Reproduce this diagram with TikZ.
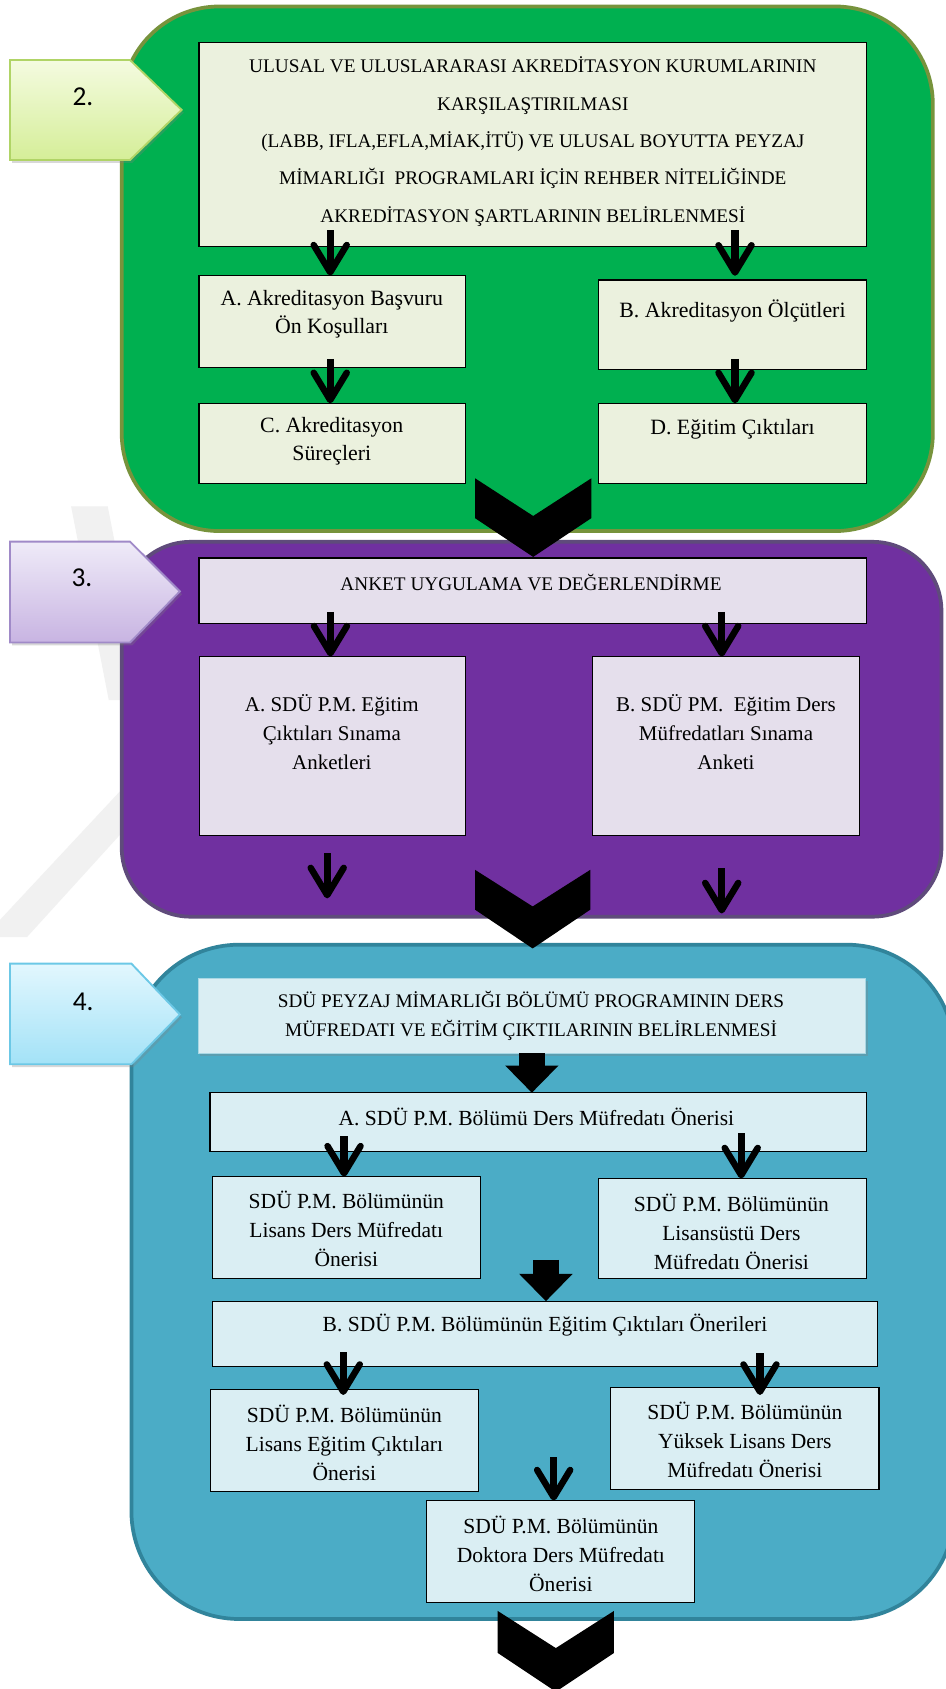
\documentclass[tikz,border=0pt]{standalone}
\usepackage{fontspec}
\setmainfont{Liberation Serif}
\newfontfamily\lblfont{Carlito}
\usetikzlibrary{arrows.meta,fit,shadows,calc}
\definecolor{gpanel}{HTML}{00B050}
\definecolor{gborder}{HTML}{77933C}
\definecolor{ppanel}{HTML}{7030A0}
\definecolor{pborder}{HTML}{5F4B7B}
\definecolor{tpanel}{HTML}{4BACC6}
\definecolor{tborder}{HTML}{31849B}
\definecolor{gboxc}{HTML}{EBF1DE}
\definecolor{pboxc}{HTML}{E5DFEC}
\definecolor{tboxc}{HTML}{DAEEF3}
\definecolor{tboxd}{HTML}{A9D7E4}
\definecolor{wmark}{HTML}{F1F1F1}
\definecolor{lgtop}{HTML}{F4FBE0}
\definecolor{lgbot}{HTML}{D5EE98}
\definecolor{lgdr}{HTML}{B0D466}
\definecolor{lptop}{HTML}{EFEBF8}
\definecolor{lpbot}{HTML}{C8B4E2}
\definecolor{lpdr}{HTML}{A08AC8}
\definecolor{lttop}{HTML}{E2F7FE}
\definecolor{ltbot}{HTML}{A3E2F7}
\definecolor{ltdr}{HTML}{6CC8E6}
\begin{document}
\begin{tikzpicture}[x=0.75pt,y=-0.75pt,
  panel/.style={line width=2.6pt},
  box/.style={draw=black, line width=0.8pt, inner sep=0pt, outer sep=0pt},
  gbx/.style={box, fill=gboxc},
  pbx/.style={box, fill=pboxc},
  tbx/.style={box, fill=tboxc},
  capstxt/.style={font=\fontsize{13.4}{26}\selectfont, align=center, inner sep=0pt},
  mixtxt/.style={font=\fontsize{15.2}{19.5}\selectfont, align=center, inner sep=0pt},
  tcaps/.style={font=\fontsize{13.4}{20.2}\selectfont, align=center, inner sep=0pt},
  pmix/.style={font=\fontsize{14.6}{20.2}\selectfont, align=center, inner sep=0pt},
  tmix/.style={font=\fontsize{15}{20.2}\selectfont, align=center, inner sep=0pt},
  thinarrow/.style={line width=5pt, -{Straight Barb[length=19pt,width=23pt,line width=4.5pt,round]}},
  blockarrow/.style={line width=18pt, -{Triangle[length=19pt,width=36pt]}},
  chev/.style={fill=black},
  lbl/.style={line width=1.3pt, drop shadow={opacity=0.3,shadow xshift=1.5pt,shadow yshift=-2pt}},
  lbltxt/.style={font=\lblfont\fontsize{19}{22}\selectfont, inner sep=0pt}
]
\useasboundingbox (0,0) rectangle (878,1568);
\fill[white] (0,0) rectangle (878,1568);
% watermark
\fill[wmark] (66,470) -- (100,470) -- (135,650) -- (101,650) -- cycle;
\fill[wmark] (-15,870) -- (25,870) -- (125,760) -- (125,720) -- cycle;

% ===== panel 2 (green)
\draw[panel, fill=gpanel, draw=gborder, rounded corners=68pt] (113,6) rectangle (866,493);
\path[lbl, top color=lgtop, bottom color=lgbot, draw=lgdr]
  (9.3,55.7) -- (120.7,55.7) -- (168.6,102) -- (120.7,148.5) -- (9.3,148.5) -- cycle;
\node[lbltxt] (n2) at (77,89.7) {2.};

\node[gbx, fit={(184.8,39.8) (804.7,228.6)}] (gtop) {};
\node[capstxt] (gtopt) at (494.7,131.5) {ULUSAL VE ULUSLARARASI AKREDİTASYON KURUMLARININ\\KARŞILAŞTIRILMASI\\(LABB, IFLA,EFLA,MİAK,İTÜ) VE ULUSAL BOYUTTA PEYZAJ\\MİMARLIĞI\ \ PROGRAMLARI İÇİN REHBER NİTELİĞİNDE\\AKREDİTASYON ŞARTLARININ BELİRLENMESİ};
\node[gbx, fit={(184.8,255.8) (432.3,341.2)}] (gA) {};
\node[mixtxt] (gAt) at (308,292) {A. Akreditasyon Başvuru\\Ön Koşulları};
\node[gbx, fit={(556,260) (804.7,343.2)}] (gB) {};
\node[mixtxt] (gBt) at (680,288.5) {B. Akreditasyon Ölçütleri};
\node[gbx, fit={(184.8,374.4) (432.3,449)}] (gC) {};
\node[mixtxt] (gCt) at (308,410) {C. Akreditasyon\\Süreçleri};
\node[gbx, fit={(556,374.4) (804.7,449)}] (gD) {};
\node[mixtxt] (gDt) at (680,398.5) {D. Eğitim Çıktıları};

\draw[thinarrow] ($(gtop.south -| gA.north)+(-2,-15)$) -- ($(gA.north)+(-2,0)$);
\draw[thinarrow] ($(gtop.south -| gB.north)+(2,-15)$) -- ($(gB.north)+(2,-4)$);
\draw[thinarrow] ($(gA.south)+(-2,-8)$) -- ($(gC.north)+(-2,0)$);
\draw[thinarrow] ($(gB.south)+(2,-10)$) -- ($(gD.north)+(2,0)$);

% ===== panel 3 (purple)
\draw[panel, fill=ppanel, draw=pborder, rounded corners=48pt] (113,503) rectangle (874,851);
\coordinate (ch1) at (495,444);
\fill[chev] ($(ch1)+(-54,0)$) -- ($(ch1)+(0,35)$) -- ($(ch1)+(54,0)$) -- ($(ch1)+(54,37)$) -- ($(ch1)+(0,73)$) -- ($(ch1)+(-54,37)$) -- cycle;
\path[lbl, top color=lptop, bottom color=lpbot, draw=lpdr]
  (9.3,502.8) -- (120.7,502.8) -- (167,549) -- (120.7,596.5) -- (9.3,596.5) -- cycle;
\node[lbltxt] (n3) at (76,536.8) {3.};

\node[pbx, fit={(184.8,518) (804.7,579)}] (p0) {};
\node[tcaps] (p0t) at (493,541) {ANKET UYGULAMA VE DEĞERLENDİRME};
\node[pbx, fit={(185,609.5) (432.5,776)}] (pA) {};
\node[pmix] (pAt) at (308,680) {A. SDÜ P.M. Eğitim\\Çıktıları Sınama\\Anketleri};
\node[pbx, fit={(550,609.5) (798,776)}] (pB) {};
\node[pmix] (pBt) at (674,680) {B. SDÜ PM.\ \ Eğitim Ders\\Müfredatları Sınama\\Anketi};

\draw[thinarrow] ($(p0.south -| pA.north)+(-2,-11)$) -- ($(pA.north)+(-2,0)$);
\draw[thinarrow] ($(p0.south -| pB.north)+(-4,-11)$) -- ($(pB.north)+(-4,0)$);
\coordinate (pAe) at ($(pA.south)+(-5,58)$);
\coordinate (pBe) at ($(pB.south)+(-4,72)$);
\draw[thinarrow] ($(pA.south)+(-5,16)$) -- (pAe);
\draw[thinarrow] ($(pB.south)+(-4,30)$) -- (pBe);

% ===== panel 4 (teal)
\draw[panel, fill=tpanel, draw=tborder, rounded corners=75pt] (122,877) rectangle (886,1503);
\coordinate (ch2) at (494.5,807.5);
\fill[chev] ($(ch2)+(-53.5,0)$) -- ($(ch2)+(0,34)$) -- ($(ch2)+(53.5,0)$) -- ($(ch2)+(53.5,37)$) -- ($(ch2)+(0,73)$) -- ($(ch2)+(-53.5,37)$) -- cycle;
\path[lbl, top color=lttop, bottom color=ltbot, draw=ltdr]
  (9.3,894.6) -- (122,894.6) -- (167,941.8) -- (122,988) -- (9.3,988) -- cycle;
\node[lbltxt] (n4) at (77.3,929.6) {4.};

\node[box, draw=tboxd, fill=tboxc, drop shadow={opacity=0.3,shadow xshift=1.5pt,shadow yshift=-2pt}, fit={(184,908) (803.5,977.7)}] (t0) {};
\node[tcaps] (t0t) at (493,943.5) {SDÜ PEYZAJ MİMARLIĞI BÖLÜMÜ PROGRAMININ DERS\\MÜFREDATI VE EĞİTİM ÇIKTILARININ BELİRLENMESİ};
\node[tbx, fit={(195,1014.5) (804.7,1069)}] (tA) {};
\node[tmix] (tAt) at (498,1037) {A. SDÜ P.M. Bölümü Ders Müfredatı Önerisi};
\node[tbx, fit={(197,1092.3) (445.8,1186.6)}] (tL1) {};
\node[tmix] (tL1t) at (321.5,1141) {SDÜ P.M. Bölümünün\\Lisans Ders Müfredatı\\Önerisi};
\node[tbx, fit={(555.5,1094) (804.7,1186.6)}] (tR1) {};
\node[tmix] (tR1t) at (679,1143.3) {SDÜ P.M. Bölümünün\\Lisansüstü Ders\\Müfredatı Önerisi};
\node[tbx, fit={(197,1208) (814.7,1268.4)}] (tB) {};
\node[tmix] (tBt) at (506,1230.5) {B. SDÜ P.M. Bölümünün Eğitim Çıktıları Önerileri};
\node[tbx, fit={(195.4,1290) (444,1384.3)}] (tL2) {};
\node[tmix] (tL2t) at (319.7,1339.3) {SDÜ P.M. Bölümünün\\Lisans Eğitim Çıktıları\\Önerisi};
\node[tbx, fit={(567,1288) (816,1383)}] (tR2) {};
\node[tmix] (tR2t) at (691.5,1336.7) {SDÜ P.M. Bölümünün\\Yüksek Lisans Ders\\Müfredatı Önerisi};
\node[tbx, fit={(396,1393) (645,1487.6)}] (tD) {};
\node[tmix] (tDt) at (520.7,1442.8) {SDÜ P.M. Bölümünün\\Doktora Ders Müfredatı\\Önerisi};

\draw[blockarrow] (t0.south) -- (t0.south |- tA.north);
\coordinate (b2s) at (506.8,1169.6);
\draw[blockarrow] (b2s) -- (b2s |- tB.north);

\draw[thinarrow] ($(tA.south -| tL1.north)+(-2,-14)$) -- ($(tL1.north)+(-2,0)$);
\draw[thinarrow] ($(tA.south -| tR1.north)+(8,-17)$) -- ($(tR1.north)+(8,0)$);
\draw[thinarrow] ($(tB.south -| tL2.north)+(-1,-13)$) -- ($(tL2.north)+(-1,5)$);
\draw[thinarrow] ($(tB.south -| tR2.north)+(14,-12)$) -- ($(tR2.north)+(14,7)$);
\coordinate (dS) at ($(tD.north)+(-6.5,-40)$);
\draw[thinarrow] (dS) -- ($(tD.north)+(-6.5,0)$);

\coordinate (ch3) at (516,1495.5);
\fill[chev] ($(ch3)+(-54,0)$) -- ($(ch3)+(0,34.5)$) -- ($(ch3)+(54,0)$) -- ($(ch3)+(54,39)$) -- ($(ch3)+(0,75)$) -- ($(ch3)+(-54,39)$) -- cycle;
\end{tikzpicture}
\end{document}
